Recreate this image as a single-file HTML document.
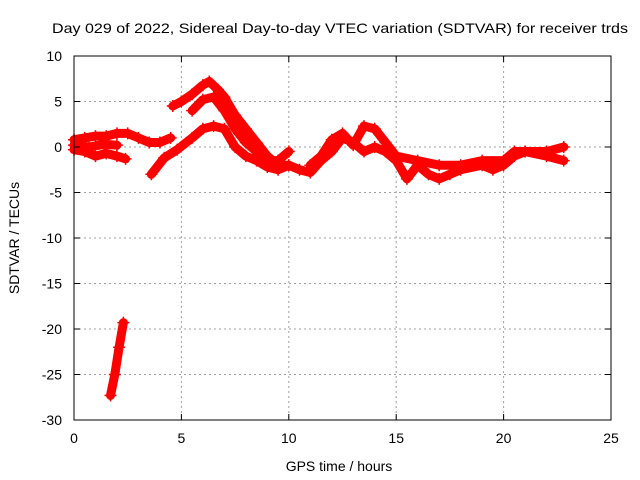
<!DOCTYPE html>
<html><head><meta charset="utf-8"><style>
body{margin:0;background:#fff}
svg{display:block;font-family:"Liberation Sans",sans-serif}
</style></head><body>
<svg id="chart" width="640" height="480">
<rect width="640" height="480" fill="#fff"/>
<text x="340" y="33" text-anchor="middle" font-size="14" textLength="576" lengthAdjust="spacingAndGlyphs">Day 029 of 2022, Sidereal Day-to-day VTEC variation (SDTVAR) for receiver trds</text>
<g id="grid"></g>
<g id="series"></g>
<rect x="74" y="56" width="537" height="364" fill="none" stroke="#000" stroke-width="1"/>
<g id="axes" font-size="14"></g>
<text x="339" y="471" text-anchor="middle" font-size="14">GPS time / hours</text>
<text transform="translate(19,238) rotate(-90)" text-anchor="middle" font-size="14">SDTVAR / TECUs</text>
</svg>
<script>
const xTicks=[0,5,10,15,20,25];
const yTicks=[10,5,0,-5,-10,-15,-20,-25,-30];
const trackA_t=[0,0.5,1,1.5,2,2.5,3,3.5,4,4.5];
const trackA_v=[0.8,1,1.2,1.2,1.5,1.5,1,0.5,0.5,1];
const trackA2_t=[0,0.5,1,1.5,2,2.4];
const trackA2_v=[-0.3,-0.5,-1,-0.7,-1,-1.3];
const trackA3_t=[0,0.7,1.4,2.0];
const trackA3_v=[0.2,0,0.3,0.2];
const trackB_t=[3.6,4.2,4.8,5.5,6,6.5,7,7.5,8,8.5,9,9.5,10,10.5,11,11.5,12,12.5,13,13.5,14,14.5,15,15.5,16,16.5,17,17.5,18,19,19.5,20,20.5,21,22,22.8];
const trackB_v=[-3,-1.2,-0.3,1,2,2.3,2,0,-1,-1.5,-2.2,-2.5,-2,-2.5,-2.8,-1.5,-0.5,1,0.5,-0.5,0,-0.5,-1.5,-3.5,-2,-3,-3.5,-3,-2.5,-2,-2.5,-2,-1,-0.5,-1,-1.5];
const trackC_t=[4.6,5,5.5,6,6.3,6.7,7,7.5,8,8.5,9,9.5,10];
const trackC_v=[4.5,5,5.8,6.8,7.2,6.3,5.5,3.5,2,0.5,-1,-2,-2];
const trackD_t=[5.5,6,6.5,7,7.5,8,8.5,9,9.5,10];
const trackD_v=[4,5.2,5.5,4,2,0.5,-0.5,-1.5,-1.5,-0.5];
const trackE_t=[11,11.5,12,12.5,13,13.5,14,14.5,15,16,17,18,19,20,20.5,21,22,22.8];
const trackE_v=[-2,-1,0.8,1.5,0.2,2.3,2,0.5,-1,-1.5,-2,-2,-1.5,-1.5,-0.5,-0.5,-0.5,0];
const trackG_t=[1.7,1.9,2.1,2.3];
const trackG_v=[-27.3,-25,-22,-19.3];
const tracks=[[trackA_t,trackA_v],[trackA2_t,trackA2_v],[trackA3_t,trackA3_v],[trackB_t,trackB_v],[trackC_t,trackC_v],[trackD_t,trackD_v],[trackE_t,trackE_v],[trackG_t,trackG_v]];

const X=t=>74+t*537/25;
const Y=v=>56+(10-v)*364/40;
const NS="http://www.w3.org/2000/svg";
const grid=document.getElementById('grid'),axes=document.getElementById('axes'),ser=document.getElementById('series');
function mk(tag,attrs,parent){const e=document.createElementNS(NS,tag);for(const k in attrs)e.setAttribute(k,attrs[k]);parent.appendChild(e);return e;}
xTicks.forEach(t=>{
  const x=X(t);
  if(t>0&&t<25){const g=mk('line',{x1:x,x2:x,y1:56,y2:420,stroke:'#a0a0a0','stroke-dasharray':'2,3'},grid);
  
  }
  const tk=mk('path',{d:`M${x},420v-6M${x},56v6`,stroke:'#000'},axes);
  
  
  const l=mk('text',{x:x,y:443,'text-anchor':'middle'},axes);l.textContent=t;
  
  
});
yTicks.forEach(v=>{
  const y=Y(v);
  if(v<10&&v>-30){const g=mk('line',{x1:74,x2:611,y1:y,y2:y,stroke:'#a0a0a0','stroke-dasharray':'2,3'},grid);
  
  }
  const tk=mk('path',{d:`M74,${y}h6M611,${y}h-6`,stroke:'#000'},axes);
  
  
  const l=mk('text',{x:62,y:y+5,'text-anchor':'end'},axes);l.textContent=v;
  
  
});
tracks.forEach(([ts,vs])=>{
  const pts=ts.map((t,i)=>X(t)+','+Y(vs[i])).join(' ');
  const pl=mk('polyline',{points:pts,fill:'none',stroke:'#ff0000','stroke-width':9,'stroke-linejoin':'round','stroke-linecap':'round'},ser);
  
  
  ts.forEach((t,i)=>{
    const x=X(t),y=Y(vs[i]);
    const p=mk('path',{d:`M${x-6},${y}h12M${x},${y-6}v12`,stroke:'#ff0000','stroke-width':1.5},ser);
    
    
  });
});
</script>
</body></html>
